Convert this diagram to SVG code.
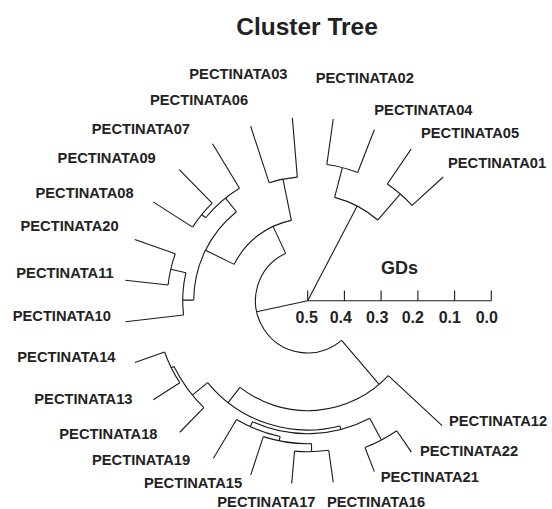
<svg xmlns="http://www.w3.org/2000/svg" width="552" height="509" viewBox="0 0 552 509">
<style>
.c{fill:none;stroke:#1a1a1a;stroke-width:1.1;stroke-linecap:butt}
.l{font-family:"Liberation Sans",Arial,sans-serif;font-weight:bold;font-size:14.7px;fill:#222}
.t{font-family:"Liberation Sans",Arial,sans-serif;font-weight:bold;fill:#222}
</style>
<rect width="552" height="509" fill="#fff"/>
<text class="t" x="307" y="35" font-size="24.5" text-anchor="middle">Cluster Tree</text>
<g id="connectors" class="c" transform="translate(307.7,300.7)">
<path d="M-10.38,-123.56 L-15.36,-182.86"/>
<path d="M-38.52,-117.86 L-57.01,-174.42"/>
<path d="M-68.22,-112.42 L-95.19,-156.88"/>
<path d="M-95.57,-97.60 L-128.39,-131.10"/>
<path d="M-115.08,-73.60 L-154.59,-98.86"/>
<path d="M-132.44,-46.90 L-172.97,-61.25"/>
<path d="M-139.62,-15.66 L-182.36,-20.45"/>
<path d="M-124.17,14.37 L-182.28,21.09"/>
<path d="M-143.10,51.24 L-172.76,61.86"/>
<path d="M-127.91,82.12 L-154.42,99.13"/>
<path d="M-103.88,106.82 L-127.93,131.55"/>
<path d="M-71.13,118.84 L-94.23,157.46"/>
<path d="M-44.43,135.92 L-57.01,174.42"/>
<path d="M-13.16,150.42 L-15.99,182.80"/>
<path d="M21.01,149.53 L25.54,181.71"/>
<path d="M57.25,146.83 L66.66,170.97"/>
<path d="M89.04,130.04 L103.67,151.41"/>
<path d="M80.58,74.88 L134.42,124.91"/>
<path d="M104.34,-95.28 L135.51,-123.73"/>
<path d="M79.63,-116.73 L103.41,-151.59"/>
<path d="M49.98,-128.20 L66.66,-170.97"/>
<path d="M19.15,-136.26 L25.54,-181.71"/>
<path d="M-38.52,-117.86 A124,124 0 0 1 -10.38,-123.56 M-24.72,-121.51 L-16.35,-80.35"/>
<path d="M-115.08,-73.60 A136.6,136.6 0 0 1 -95.57,-97.60 M-106.01,-86.15 L-102.05,-82.93"/>
<path d="M-102.05,-82.93 A131.5,131.5 0 0 1 -68.22,-112.42 M-82.22,-102.63 L-71.28,-88.97"/>
<path d="M-139.62,-15.66 A140.5,140.5 0 0 1 -132.44,-46.90 M-136.93,-31.49 L-121.82,-28.01"/>
<path d="M-124.17,14.37 A125,125 0 0 1 -121.82,-28.01 M-125,-0.65 L-114,-0.60"/>
<path d="M-114,-0.60 A114,114 0 0 1 -71.28,-88.97 M-102.20,-50.51 L-73.51,-36.33"/>
<path d="M-73.51,-36.33 A82,82 0 0 1 -16.35,-80.35 M-34.65,-74.32 L-22.06,-47.31"/>
<path d="M-127.91,82.12 A152,152 0 0 1 -143.10,51.24 M-136.38,67.11 L-133.69,65.78"/>
<path d="M-103.88,106.82 A149,149 0 0 1 -133.69,65.78 M-115.30,94.37 L-100.06,81.90"/>
<path d="M21.01,149.53 A151,151 0 0 1 -13.16,150.42 M3.95,150.95 L3.74,142.95"/>
<path d="M3.74,142.95 A143,143 0 0 1 -44.43,135.92 M-28.51,140.13 L-27.61,135.72"/>
<path d="M-27.61,135.72 A138.5,138.5 0 0 1 -71.13,118.84 M-57.43,126.03 L-55.15,121.02"/>
<path d="M89.04,130.04 A157.6,157.6 0 0 1 57.25,146.83 M73.64,139.34 L62.14,117.59"/>
<path d="M62.14,117.59 A133,133 0 0 1 -55.15,121.02 M33.08,128.82 L32.16,125.24"/>
<path d="M32.16,125.24 A129.3,129.3 0 0 1 -100.06,81.90 M-79.60,101.89 L-67.72,86.68"/>
<path d="M80.58,74.88 A110,110 0 0 1 -67.72,86.68 M71.44,83.65 L33.90,39.69"/>
<path d="M33.90,39.69 A52.2,52.2 0 1 1 -22.06,-47.31 M-51.02,11.03 L0,0"/>
<path d="M19.15,-136.26 A137.6,137.6 0 0 1 49.98,-128.20 M34.68,-133.16 L26.92,-103.35"/>
<path d="M79.63,-116.73 A141.3,141.3 0 0 1 104.34,-95.28 M92.61,-106.72 L70,-80.66"/>
<path d="M26.92,-103.35 A106.8,106.8 0 0 1 70,-80.66 M49.48,-94.65 L0,0"/>
</g>
<g id="axis">
<path class="c" d="M307.7,300.7 H491.3 M307.7,300.7 V290.5 M344.4,300.7 V290.5 M381.1,300.7 V290.5 M417.9,300.7 V290.5 M454.6,300.7 V290.5 M491.3,300.7 V290.5"/>
<g class="t" font-size="16" text-anchor="middle">
<text x="306.7" y="323.3">0.5</text>
<text x="340.8" y="323.3">0.4</text>
<text x="377.2" y="323.3">0.3</text>
<text x="412.8" y="323.3">0.2</text>
<text x="449.8" y="323.3">0.1</text>
<text x="486.8" y="323.3">0.0</text>
</g>
<text class="t" x="381" y="274" font-size="18">GDs</text>
</g>
<g id="n03"><text class="l" x="189.3" y="79">PECTINATA03</text></g>
<g id="n02"><text class="l" x="315.7" y="83.3">PECTINATA02</text></g>
<g id="n06"><text class="l" x="150" y="105.3">PECTINATA06</text></g>
<g id="n04"><text class="l" x="374.3" y="114.5">PECTINATA04</text></g>
<g id="n07"><text class="l" x="91.8" y="134">PECTINATA07</text></g>
<g id="n05"><text class="l" x="421" y="137.5">PECTINATA05</text></g>
<g id="n09"><text class="l" x="57.6" y="163.3">PECTINATA09</text></g>
<g id="n01"><text class="l" x="448" y="167.7">PECTINATA01</text></g>
<g id="n08"><text class="l" x="35.5" y="198">PECTINATA08</text></g>
<g id="n20"><text class="l" x="20.5" y="230.7">PECTINATA20</text></g>
<g id="n11"><text class="l" x="16.3" y="278.3">PECTINATA11</text></g>
<g id="n10"><text class="l" x="12.7" y="320.7">PECTINATA10</text></g>
<g id="n14"><text class="l" x="17.3" y="362">PECTINATA14</text></g>
<g id="n13"><text class="l" x="34.3" y="403.7">PECTINATA13</text></g>
<g id="n18"><text class="l" x="59.3" y="439">PECTINATA18</text></g>
<g id="n19"><text class="l" x="92" y="464.7">PECTINATA19</text></g>
<g id="n15"><text class="l" x="144" y="487.7">PECTINATA15</text></g>
<g id="n17"><text class="l" x="217.3" y="507">PECTINATA17</text></g>
<g id="n16"><text class="l" x="326.9" y="507">PECTINATA16</text></g>
<g id="n21"><text class="l" x="380.7" y="481.7">PECTINATA21</text></g>
<g id="n22"><text class="l" x="420" y="456.3">PECTINATA22</text></g>
<g id="n12"><text class="l" x="449" y="425.7">PECTINATA12</text></g>
</svg>
